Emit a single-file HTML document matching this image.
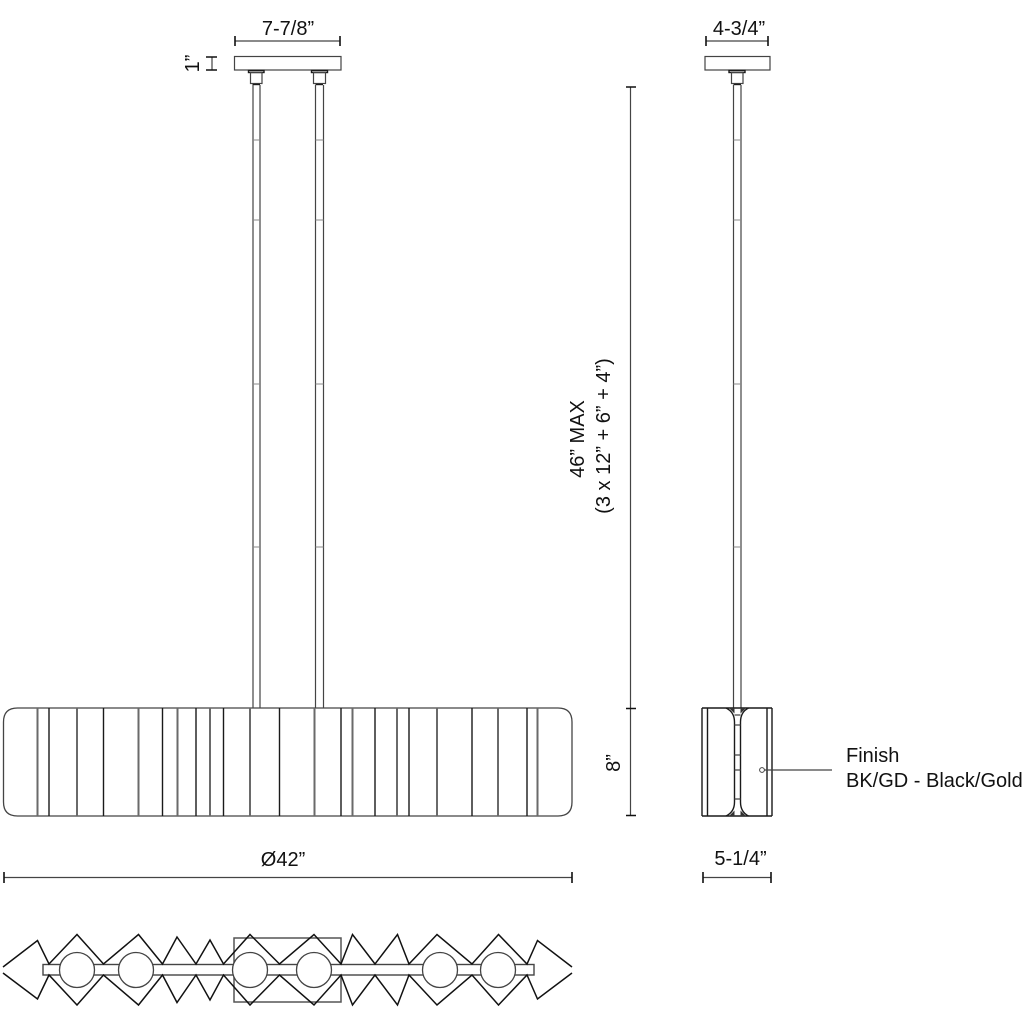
<!DOCTYPE html>
<html><head><meta charset="utf-8"><style>
html,body{margin:0;padding:0;background:#fff}
svg{display:block}
text{font-family:"Liberation Sans",sans-serif;font-size:20px;fill:#111}
.g{stroke:#6a6a6a;stroke-width:2;fill:none}
.k{stroke:#1a1a1a;stroke-width:1.4;fill:none}
.d{stroke:#444;stroke-width:1.2;fill:none}
.b{stroke:#888;stroke-width:1;fill:none}
.t{stroke:#111;stroke-width:1.6;fill:none}
</style></head><body>
<svg width="1024" height="1024" viewBox="0 0 1024 1024" xmlns="http://www.w3.org/2000/svg">
<rect width="1024" height="1024" fill="#fff"/>

<!-- front canopy -->
<rect class="d" x="234.5" y="56.5" width="106.5" height="13.5"/>
<rect class="k" x="248.5" y="70.5" width="15.5" height="2"/>
<rect class="d" x="250.5" y="72.5" width="11.5" height="11"/>
<path class="k" d="M252.5 84.5H260"/>
<path class="d" d="M253 85V708M260 85V708"/>
<path class="b" d="M253 140H260M253 220H260M253 384H260M253 547H260"/>
<rect class="k" x="311.5" y="70.5" width="16" height="2"/>
<rect class="d" x="313.5" y="72.5" width="12" height="11"/>
<path class="k" d="M315.5 84.5H323"/>
<path class="d" d="M315.500 85V708M323.500 85V708"/>
<path class="b" d="M315.500 140H323.500M315.500 220H323.500M315.500 384H323.500M315.500 547H323.500"/>

<!-- side canopy -->
<rect class="d" x="705" y="56.5" width="65" height="13.5"/>
<rect class="k" x="729" y="70.5" width="16" height="2"/>
<rect class="d" x="731.5" y="72.5" width="11.5" height="11"/>
<path class="k" d="M733.5 84.5H741"/>
<path class="d" d="M733.5 85V708M741 85V708"/>
<path class="b" d="M733.5 140H741M733.5 220H741M733.5 384H741M733.5 547H741"/>

<!-- front fixture -->
<path d="M17.5 708H558Q572 708 572 722V802Q572 816 558 816H17.5Q3.5 816 3.5 802V722Q3.5 708 17.5 708Z" fill="#fff" stroke="#444" stroke-width="1.3"/>
<path class="g" d="M37.500 708V816M77 708V816M138.500 708V816M177.500 708V816M210 708V816M250 708V816M314.500 708V816M352.500 708V816M397 708V816M437 708V816M498 708V816M537.500 708V816"/>
<path class="k" d="M49 708V816M103.500 708V816M162.500 708V816M196 708V816M223.500 708V816M279.500 708V816M341 708V816M375 708V816M409 708V816M472 708V816M527 708V816"/>

<!-- side fixture -->
<path class="k" d="M702 708H772M702 816H772M702 708V816M707.500 708V816M767 708V816M772 708V816"/>
<path class="k" d="M726 708Q734.500 712 734.500 722V802Q734.500 812 726 816M748.500 708Q740.500 712 740.500 722V802Q740.500 812 748.500 816"/>
<path d="M729 708L734.500 713.500L734.500 708ZM746 708L740.500 713.500L740.500 708ZM729 816L734.500 810.500L734.500 816ZM746 816L740.500 810.500L740.500 816Z" fill="#333"/>
<path class="d" d="M734.500 715H740.500M734.500 725H740.500M734.500 755H740.500M734.500 770H740.500M734.500 799H740.500"/>

<!-- leader -->
<circle cx="762" cy="770" r="2.400" fill="#fff" stroke="#444" stroke-width="1"/>
<path class="d" d="M764.500 770H832"/>
<text x="846" y="762">Finish</text>
<text x="846" y="787">BK/GD - Black/Gold</text>

<!-- dimensions -->
<path class="d" d="M235 41H340"/><path class="t" d="M235 36V46M340 36V46"/>
<text x="288" y="35" text-anchor="middle">7-7/8”</text>
<path class="d" d="M212 57V70"/><path class="t" d="M206 57H217M206 70H217"/>
<text transform="translate(199 63.500) rotate(-90)" text-anchor="middle">1”</text>

<path class="d" d="M706 41H768"/><path class="t" d="M706 36V46M768 36V46"/>
<text x="739" y="35" text-anchor="middle">4-3/4”</text>

<path class="d" d="M630.500 87V815"/>
<path class="t" d="M626 87H636M626 708.500H636M626 815.500H636"/>
<text transform="translate(584 439) rotate(-90)" text-anchor="middle">46” MAX</text>
<text transform="translate(610 436) rotate(-90)" text-anchor="middle">(3 x 12” + 6” + 4”)</text>
<text transform="translate(620 763) rotate(-90)" text-anchor="middle">8”</text>

<path class="d" d="M4 877.500H572"/><path class="t" d="M4 872V883M572 872V883"/>
<text x="283" y="866" text-anchor="middle">Ø42”</text>
<path class="d" d="M703 877.500H771"/><path class="t" d="M703 872V883M771 872V883"/>
<text x="740.500" y="865" text-anchor="middle">5-1/4”</text>

<!-- top view -->
<rect x="234" y="938" width="107" height="64" fill="none" stroke="#555" stroke-width="1.500"/>
<rect x="43" y="964.500" width="491" height="10.500" fill="#fff" stroke="#444" stroke-width="1.400"/>
<g fill="#fff" stroke="#444" stroke-width="1.300">
<circle cx="77" cy="970" r="17.500"/><circle cx="136" cy="970" r="17.500"/><circle cx="250" cy="970" r="17.500"/>
<circle cx="314" cy="970" r="17.500"/><circle cx="440" cy="970" r="17.500"/><circle cx="498" cy="970" r="17.500"/>
</g>
<path d="M3 967L37.500 940.500L49 964L77 934.500L103.500 964L138.500 934.500L162.500 964L177 937L196 964L210 940L223.500 964L250 934.500L279.500 964L314 934.500L341 964L352.500 934.500L375 964L397.500 934.500L409 964L437 934.500L472 964L498.500 934.500L527 964L537.500 940.500L572 967" fill="none" stroke="#111" stroke-width="1.500"/>
<path d="M3 973L37.500 999L49 975L77 1005L103.500 975L138.500 1005L162.500 975L177 1002.500L196 975L210 1000L223.500 975L250 1005L279.500 975L314 1005L341 975L352.500 1005L375 975L397.500 1005L409 975L437 1005L472 975L498.500 1005L527 975L537.500 999L572 973" fill="none" stroke="#111" stroke-width="1.500"/>
</svg>
</body></html>
